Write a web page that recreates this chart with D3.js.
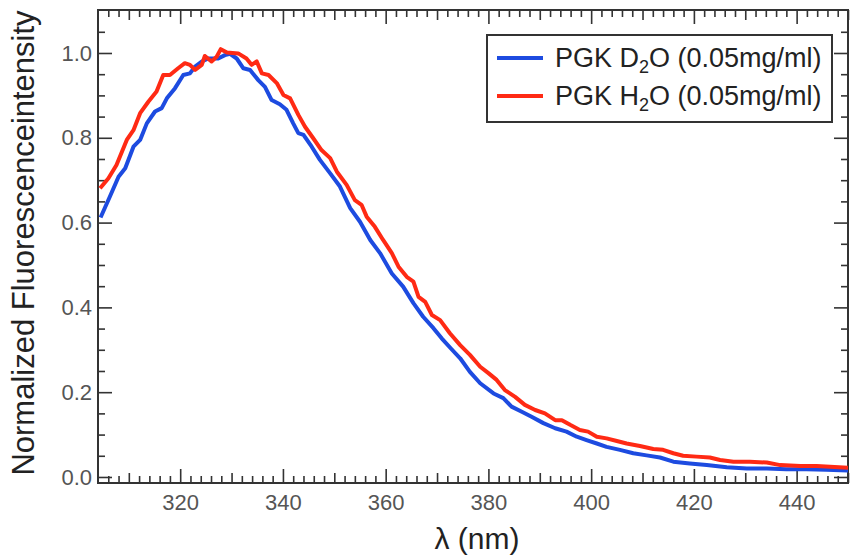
<!DOCTYPE html>
<meta charset="utf-8">
<style>
body { margin: 0; background: #fff; }
.axis path { fill: none; stroke: none; }
.axis line { stroke: #333; stroke-width: 1.6; }
.axis text { font-family: "Liberation Sans", Arial, sans-serif; font-size: 22px; fill: #555; }
</style>
<head>
    <title>PGK fluorescence</title>
</head>

<script src="https://d3js.org/d3.v7.min.js"></script>

<div id="chart"></div>

<script>
// wavelength (nm) and normalized intensity
var wlD2O = [304.5, 306.3, 308, 309.3, 310.9, 312.2, 313.5, 315.1, 316.4, 317.4, 319, 320.6, 321.9, 322.9,
  324.2, 325.5, 327.4, 328.7, 329.7, 331, 332.3, 333.6, 335.2, 336.5, 337.8, 339.4, 340.7, 342, 343, 344,
  345.6, 347.2, 349.2, 351.1, 353.1, 355, 357, 358.9, 361.2, 363.4, 365.4, 367.3, 369.3, 370.9, 372.7,
  374.5, 376.4, 378.4, 381, 382.9, 384.5, 386.5, 388.4, 390.7, 393, 395.2, 397.2, 399.1, 401.1, 403,
  405.6, 408.2, 410.8, 413.4, 416, 419.2, 422.5, 426.4, 430.3, 434.2, 438, 441.9, 445.8, 450];
var intD2O = [0.612, 0.661, 0.708, 0.728, 0.779, 0.795, 0.834, 0.862, 0.870, 0.893, 0.917, 0.948, 0.952, 0.968,
  0.980, 0.987, 0.987, 0.995, 0.998, 0.987, 0.964, 0.960, 0.936, 0.920, 0.889, 0.879, 0.866, 0.834, 0.811, 0.807,
  0.779, 0.748, 0.716, 0.685, 0.634, 0.602, 0.559, 0.528, 0.480, 0.449, 0.410, 0.378, 0.351, 0.327, 0.303,
  0.280, 0.248, 0.221, 0.197, 0.186, 0.166, 0.154, 0.142, 0.127, 0.115, 0.107, 0.095, 0.087, 0.079, 0.071,
  0.064, 0.056, 0.051, 0.046, 0.036, 0.032, 0.028, 0.023, 0.020, 0.020, 0.018, 0.018, 0.017, 0.015];

var wlH2O = [304.4, 306, 307.6, 309.6, 310.9, 312.2, 313.8, 315.4, 316.7, 318, 319.6, 320.9, 321.9, 322.9,
  324.2, 324.8, 326.1, 327.1, 327.9, 329.1, 331.3, 332.9, 333.9, 334.9, 335.9, 337.2, 338.8, 340.1, 341.4,
  343, 344.3, 345.9, 347.5, 349.2, 350.5, 352.4, 354, 355.3, 356.3, 357.9, 359.5, 361.2, 362.5, 364.1,
  365.4, 366.4, 367.7, 369, 370.6, 372.5, 374.5, 376.4, 378.4, 380, 381.6, 383.2, 385.2, 387.1, 389.1,
  391, 393, 394.3, 395.9, 397.8, 399.4, 401.1, 403, 405, 406.9, 409.5, 412.1, 414, 416, 417.9, 420.5,
  423.1, 425.1, 427.7, 430.9, 434.2, 436.8, 440.7, 443.9, 446.5, 450];
var intH2O = [0.681, 0.704, 0.736, 0.795, 0.818, 0.858, 0.885, 0.909, 0.948, 0.948, 0.964, 0.976, 0.972, 0.960,
  0.972, 0.993, 0.980, 0.991, 1.009, 1.001, 0.999, 0.987, 0.972, 0.980, 0.952, 0.948, 0.929, 0.901, 0.893,
  0.854, 0.826, 0.799, 0.771, 0.752, 0.720, 0.689, 0.653, 0.642, 0.614, 0.590, 0.559, 0.528, 0.496, 0.472,
  0.461, 0.425, 0.413, 0.382, 0.370, 0.339, 0.311, 0.288, 0.260, 0.245, 0.229, 0.205, 0.189, 0.170, 0.158,
  0.150, 0.134, 0.134, 0.123, 0.111, 0.107, 0.095, 0.091, 0.085, 0.079, 0.073, 0.066, 0.064, 0.056, 0.050, 0.048,
  0.046, 0.040, 0.036, 0.036, 0.034, 0.028, 0.026, 0.026, 0.024, 0.022];

var xTicks = [320, 340, 360, 380, 400, 420, 440];
var yTicks = [0.0, 0.2, 0.4, 0.6, 0.8, 1.0];

var margin = {top: 10, right: 2, bottom: 76, left: 98},
    width = 850 - margin.left - margin.right,
    height = 559 - margin.top - margin.bottom;

var svg = d3.select("#chart")
  .append("svg")
    .attr("width", 850)
    .attr("height", 559)
  .append("g")
    .attr("transform", "translate(" + margin.left + "," + margin.top + ")");

var x = d3.scaleLinear().domain([304, 450]).range([0, width]);
var y = d3.scaleLinear().domain([-0.0142, 1.1014]).range([height, 0]);

// tick sets: minor / medium / major, all pointing into the frame
var xMinor = d3.range(306, 450, 2).filter(function(d) { return d % 10 != 0; }),
    xMid = [310, 330, 350, 370, 390, 410, 430, 450],
    yMinor = [0.05, 0.1, 0.15, 0.25, 0.3, 0.35, 0.45, 0.5, 0.55, 0.65, 0.7, 0.75, 0.85, 0.9, 0.95, 1.05];

function ticks(axis, pos, values, size, fmt, pad) {
  var a = axis.tickValues(values).tickSize(-size).tickSizeOuter(0).tickPadding(pad || 3);
  a.tickFormat(fmt || "");
  return svg.append("g")
    .attr("class", "axis")
    .attr("transform", pos)
    .call(a);
}

var bottom = "translate(0," + height + ")",
    right = "translate(" + width + ",0)";

// bottom and top
ticks(d3.axisBottom(x), bottom, xMinor, 7);
ticks(d3.axisBottom(x), bottom, xMid, 10);
ticks(d3.axisBottom(x), bottom, xTicks, 14, d3.format("d"), 11);
ticks(d3.axisTop(x), "translate(0,0)", xMinor, 7);
ticks(d3.axisTop(x), "translate(0,0)", xMid, 10);
ticks(d3.axisTop(x), "translate(0,0)", xTicks, 14);

// left and right
ticks(d3.axisLeft(y), "translate(0,0)", yMinor, 7);
ticks(d3.axisLeft(y), "translate(0,0)", yTicks, 14, d3.format(".1f"), 6);
ticks(d3.axisRight(y), right, yMinor, 7);
ticks(d3.axisRight(y), right, yTicks, 14);

// frame
svg.append("rect")
    .attr("x", 0)
    .attr("y", 0)
    .attr("width", width)
    .attr("height", height)
    .attr("fill", "none")
    .attr("stroke", "#333")
    .attr("stroke-width", 2);

// curves
var clip = svg.append("clipPath").attr("id", "clip")
  .append("rect").attr("width", width).attr("height", height);

var line = d3.line()
    .x(function(d) { return x(d[0]); })
    .y(function(d) { return y(d[1]); });

var series = [
  {name: "D2O", color: "#1d4be0", pts: d3.zip(wlD2O, intD2O)},
  {name: "H2O", color: "#ff2a14", pts: d3.zip(wlH2O, intH2O)}
];

svg.append("g")
    .attr("clip-path", "url(#clip)")
  .selectAll("path")
    .data(series)
    .enter()
    .append("path")
    .attr("d", function(d) { return line(d.pts); })
    .attr("fill", "none")
    .attr("stroke", function(d) { return d.color; })
    .attr("stroke-width", 4)
    .attr("stroke-linejoin", "round");

// axis titles
svg.append("text")
    .attr("transform", "translate(" + (34 - margin.left) + "," + 233 + ")rotate(-90)")
    .attr("text-anchor", "middle")
    .style("font-family", "Liberation Sans, Arial, sans-serif")
    .style("font-size", "31px")
    .style("fill", "#222")
    .text("Normalized Fluorescenceintensity");

svg.append("text")
    .attr("x", 477 - margin.left)
    .attr("y", 549 - margin.top)
    .attr("text-anchor", "middle")
    .style("font-family", "Liberation Sans, Arial, sans-serif")
    .style("font-size", "30px")
    .style("fill", "#222")
    .text("λ (nm)");

// legend
var legend = svg.append("g")
    .attr("transform", "translate(" + (487 - margin.left) + "," + (35 - margin.top) + ")");

legend.append("rect")
    .attr("width", 345)
    .attr("height", 87)
    .attr("fill", "#fff")
    .attr("stroke", "#333")
    .attr("stroke-width", 2);

var item = legend.selectAll(".item")
    .data(series)
    .enter()
    .append("g")
    .attr("transform", function(d, i) { return "translate(0," + (23 + i * 38) + ")"; });

item.append("line")
    .attr("x1", 10)
    .attr("x2", 56)
    .attr("stroke", function(d) { return d.color; })
    .attr("stroke-width", 4);

var label = item.append("text")
    .attr("x", 68)
    .attr("y", 9)
    .style("font-family", "Liberation Sans, Arial, sans-serif")
    .style("font-size", "27px")
    .style("fill", "#222");

label.append("tspan").text(function(d) { return "PGK " + d.name[0]; });
label.append("tspan").attr("dy", 6).style("font-size", "18px").text("2");
label.append("tspan").attr("dy", -6).text("O (0.05mg/ml)");
</script>
